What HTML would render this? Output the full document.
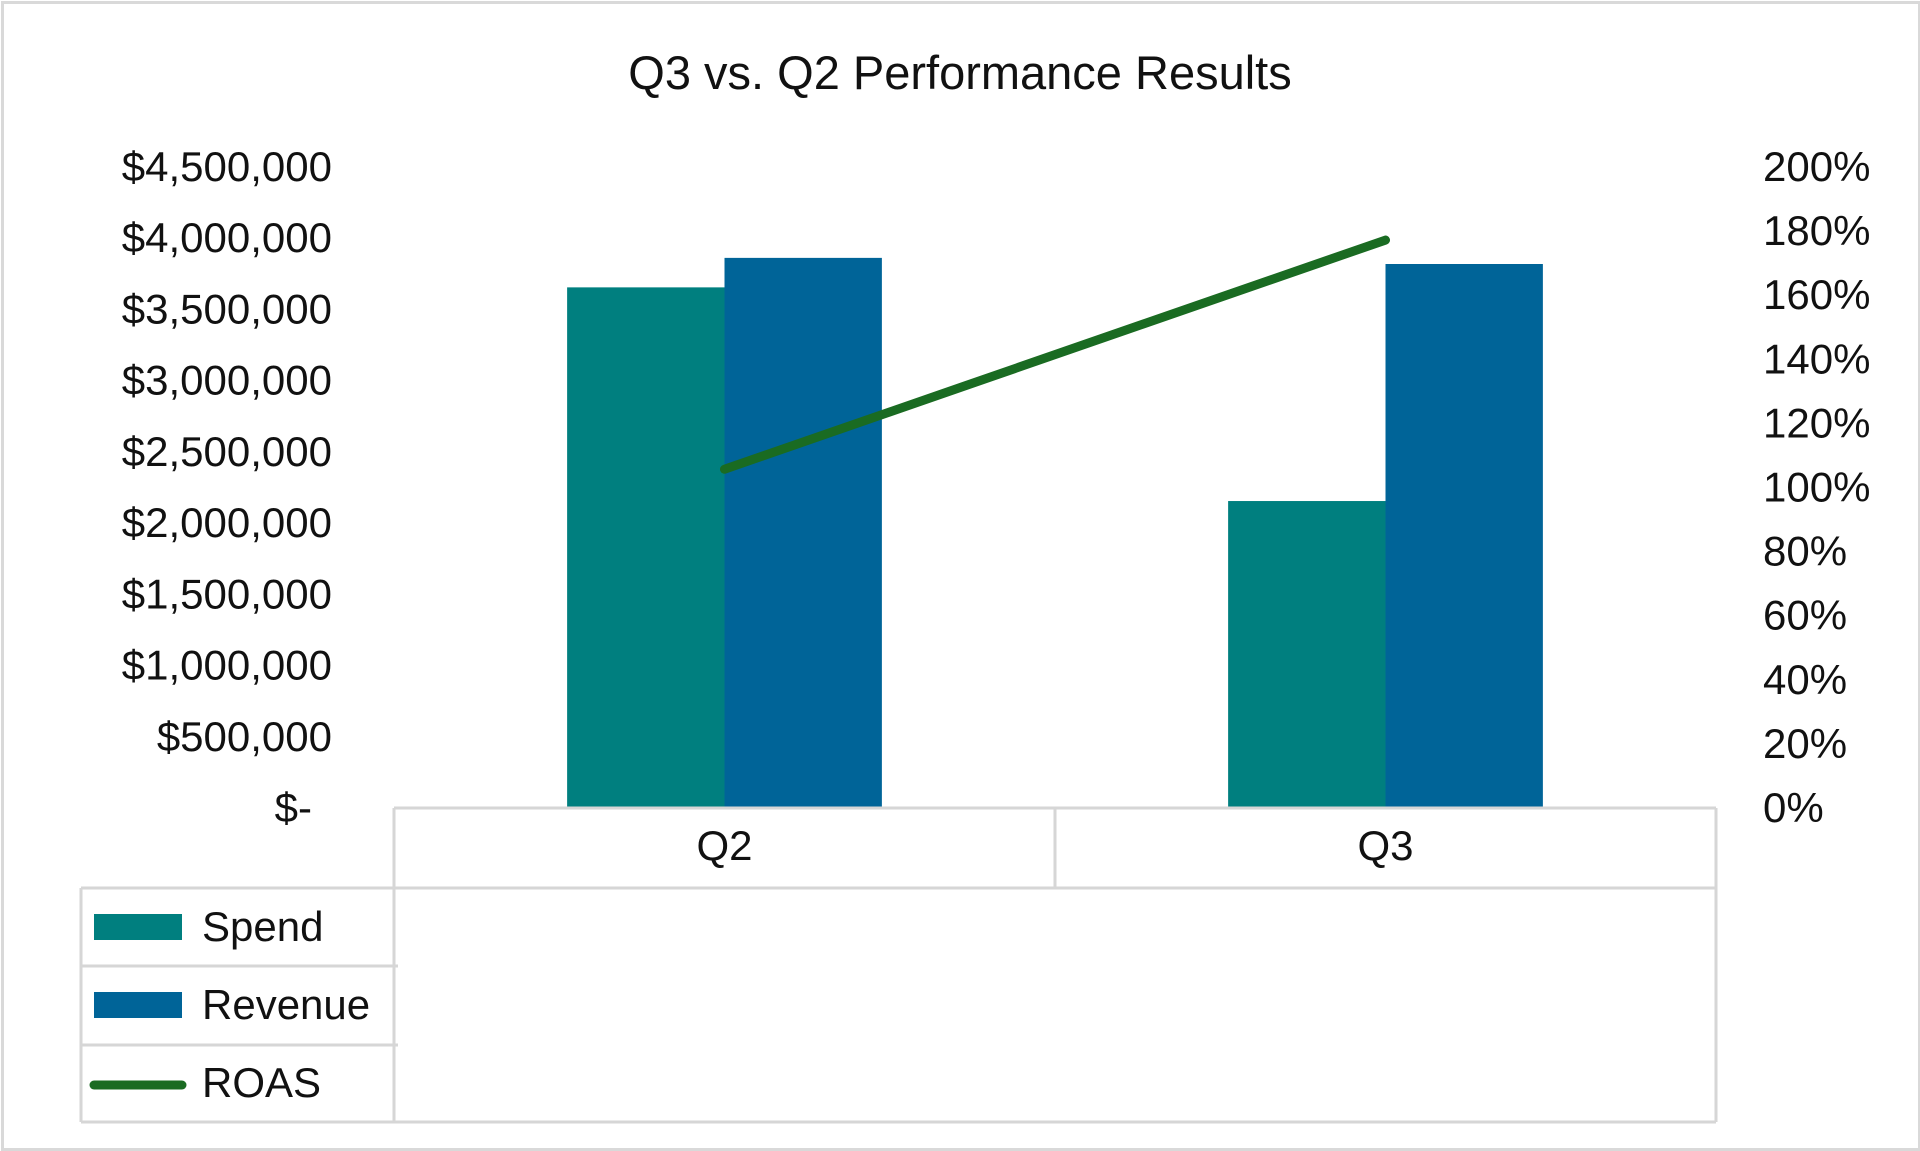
<!DOCTYPE html>
<html><head><meta charset="utf-8"><style>
html,body{margin:0;padding:0;background:#fff;}
body{width:1920px;height:1150px;overflow:hidden;font-family:"Liberation Sans",sans-serif;}
#frame{position:absolute;left:1px;top:1px;width:1914px;height:1144px;border:3px solid #d9d9d9;}
svg{position:absolute;left:0;top:0;}
</style></head><body>
<div id="frame"></div>
<svg id="chart" width="1920" height="1150">
<text x="960" y="89" text-anchor="middle" font-size="47" fill="#111">Q3 vs. Q2 Performance Results</text>
<g id="leftTicks"></g><g id="rightTicks"></g><g id="bars"></g><g id="line"></g><g id="table"></g>
</svg>
<script>
const categories = ["Q2", "Q3"];
const spend = [3655000, 2155000];
const revenue = [3862000, 3819000];
const roas = [1.057, 1.772];
const leftTickLabels = ["$-", "$500,000", "$1,000,000", "$1,500,000", "$2,000,000", "$2,500,000", "$3,000,000", "$3,500,000", "$4,000,000", "$4,500,000"];
const leftTickValues = [0, 500000, 1000000, 1500000, 2000000, 2500000, 3000000, 3500000, 4000000, 4500000];
const rightTickValues = [0, 0.2, 0.4, 0.6, 0.8, 1.0, 1.2, 1.4, 1.6, 1.8, 2.0];
const rightTickLabels = ["0%", "20%", "40%", "60%", "80%", "100%", "120%", "140%", "160%", "180%", "200%"];

const NS = "http://www.w3.org/2000/svg";
const plotL = 394, plotR = 1716, base = 808, plotTop = 167;
const yL = v => base - (v / 4500000) * (base - plotTop);
const yR = v => base - (v / 2.0) * (base - plotTop);
const catW = (plotR - plotL) / categories.length;
const barW = catW / 4.2;
const xCat = i => plotL + catW * i + catW / 2;
function mk(tag, attrs, parent) { const e = document.createElementNS(NS, tag); for (const k in attrs) e.setAttribute(k, attrs[k]); parent.appendChild(e); return e; }

const lt = document.getElementById('leftTicks');
leftTickValues.forEach((v, i) => {
  const t = mk('text', { x: i === 0 ? 312 : 332, y: yL(v) + 14, 'text-anchor': 'end', 'font-size': 42, fill: '#111' }, lt);
  t.textContent = leftTickLabels[i];
  
  
});
const rt = document.getElementById('rightTicks');
rightTickValues.forEach((v, i) => {
  const t = mk('text', { x: 1763, y: yR(v) + 14, 'text-anchor': 'start', 'font-size': 42, fill: '#111' }, rt);
  t.textContent = rightTickLabels[i];
  
  
});

const bg = document.getElementById('bars');
categories.forEach((c, i) => {
  const cx = xCat(i);
  const s = mk('rect', { x: cx - barW, y: yL(spend[i]), width: barW, height: base - yL(spend[i]), fill: '#007f7f' }, bg);
  
  
  const r = mk('rect', { x: cx, y: yL(revenue[i]), width: barW, height: base - yL(revenue[i]), fill: '#006498' }, bg);
  
  
});

const lg = document.getElementById('line');
const pts = roas.map((v, i) => xCat(i) + ',' + yR(v)).join(' ');
const pl = mk('polyline', { points: pts, fill: 'none', stroke: '#1a6b22', 'stroke-width': 9, 'stroke-linecap': 'round' }, lg);



const tb = document.getElementById('table');
const gc = '#d6d6d6';
function ln(x1, y1, x2, y2, name) { const l = mk('line', { x1, y1, x2, y2, stroke: gc, 'stroke-width': 3 }, tb);   }
ln(plotL, base, plotR, base, 'x-axis-line');
ln(plotL, 888, plotR, 888, 'table-row-line');
ln(81, 888, plotL, 888, 'legend-row-line');
ln(81, 966, plotL + 4, 966, 'legend-row-line');
ln(81, 1045, plotL + 4, 1045, 'legend-row-line');
ln(81, 1122, plotR, 1122, 'table-bottom-line');
ln(81, 888, 81, 1122, 'legend-left-line');
ln(plotL, base, plotL, 1122, 'table-divider');
ln(plotL + catW, base, plotL + catW, 888, 'table-divider');
ln(plotR, base, plotR, 1122, 'table-right-line');
categories.forEach((c, i) => {
  const t = mk('text', { x: xCat(i), y: 860, 'text-anchor': 'middle', 'font-size': 42, fill: '#111' }, tb);
  t.textContent = c;
  
  
});
const legendNames = ["Spend", "Revenue", "ROAS"];
const legendColors = ["#007f7f", "#006498", "#1a6b22"];
legendNames.forEach((n, i) => {
  const cy = 927 + i * 78;
  if (i < 2) {
    const r = mk('rect', { x: 94, y: cy - 13, width: 88, height: 26, fill: legendColors[i] }, tb);
    
    
  } else {
    const l = mk('line', { x1: 94, y1: cy + 2, x2: 182, y2: cy + 2, stroke: legendColors[i], 'stroke-width': 9, 'stroke-linecap': 'round' }, tb);
    
    
  }
  const t = mk('text', { x: 202, y: cy + 14, 'font-size': 42, fill: '#111' }, tb);
  t.textContent = n;
  
  
});
</script>
</body></html>
